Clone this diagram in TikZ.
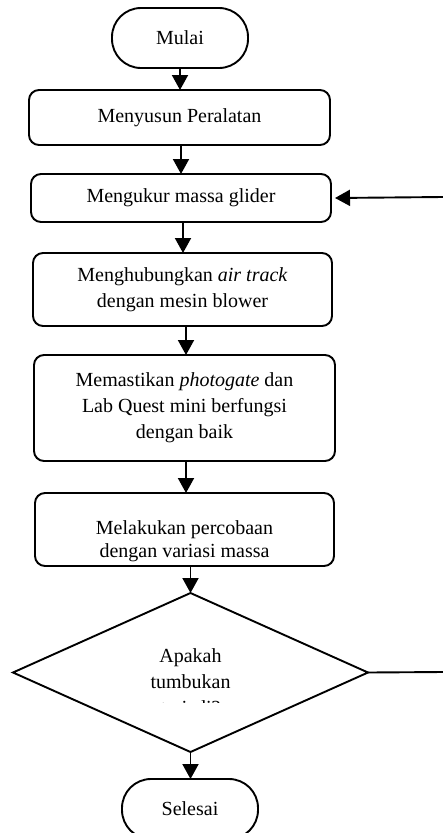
\documentclass[tikz,border=0pt]{standalone}
\usepackage{fontspec}
\setmainfont{Liberation Serif}
\usetikzlibrary{arrows.meta,shapes.geometric}
\begin{document}
\begin{tikzpicture}[x=1pt,y=-1pt,
  every node/.style={font=\fontsize{20}{26}\selectfont, inner sep=0pt, outer sep=0pt},
  procbox/.style={draw, line width=1.9pt, rounded corners=10pt, align=center},
  termbox/.style={draw, line width=1.9pt, rounded corners=29pt, minimum width=136pt, minimum height=60pt},
  decbox/.style={draw, line width=1.9pt, shape=diamond, aspect=2.233, minimum width=355pt, minimum height=159pt},
  arr/.style={line width=1.9pt, -{Triangle[width=16pt,length=15pt]}},
  plain/.style={line width=1.9pt}]
\useasboundingbox (0,0) rectangle (443,833);
\node[termbox] (mulai) at (180,38) {Mulai};
\node[procbox, minimum width=301pt, minimum height=55pt] (susun) at (179.5,117.5) {Menyusun Peralatan};
\node[procbox, minimum width=300pt, minimum height=48pt] (ukur) at (181,198) {Mengukur massa glider};
\node[procbox, minimum width=299pt, minimum height=73pt] (hubung) at (182.5,289.5) {Menghubungkan \textit{air track}\\dengan mesin blower};
\node[procbox, minimum width=301pt, minimum height=106pt] (pasti) at (184.5,408) {Memastikan \textit{photogate} dan\\Lab Quest mini berfungsi\\dengan baik};
\node[procbox, minimum width=299pt, minimum height=73pt, text depth=0pt] (laku) at (184.5,529.5) {\raisebox{-4pt}{\begin{tabular}{@{}c@{}}Melakukan percobaan\\[-3pt]dengan variasi massa\end{tabular}}};
\node[decbox] (tanya) at (190.5,672.5) {};
\begin{scope}
  \clip (0,640) rectangle (443,702);
  \node[align=center] (tanyatxt) at (190.5,683.4) {Apakah\\tumbukan\\terjadi?};
\end{scope}
\node[termbox] (selesai) at (190,809) {Selesai};
\coordinate (kanan1) at (443,672);
\coordinate (kanan2) at (443,197);
\draw[arr] (mulai.south) -- (mulai.south |- susun.north);
\draw[arr] ([xshift=1.5pt]susun.south) -- ([xshift=1.5pt]susun.south |- ukur.north);
\draw[arr] ([xshift=2pt]ukur.south) -- ([xshift=2pt]ukur.south |- hubung.north);
\draw[arr] ([xshift=3.5pt]hubung.south) -- ([xshift=3.5pt]hubung.south |- pasti.north);
\draw[arr] ([xshift=1.5pt]pasti.south) -- ([xshift=1.5pt]pasti.south |- laku.north);
\draw[arr] (tanya.north |- laku.south) -- (tanya.north);
\draw[arr] (tanya.south) -- (tanya.south |- selesai.north);
\draw[plain] (tanya.east) -- (kanan1);
\draw[arr] (kanan2) -- ([xshift=4pt]ukur.east);
\end{tikzpicture}
\end{document}
